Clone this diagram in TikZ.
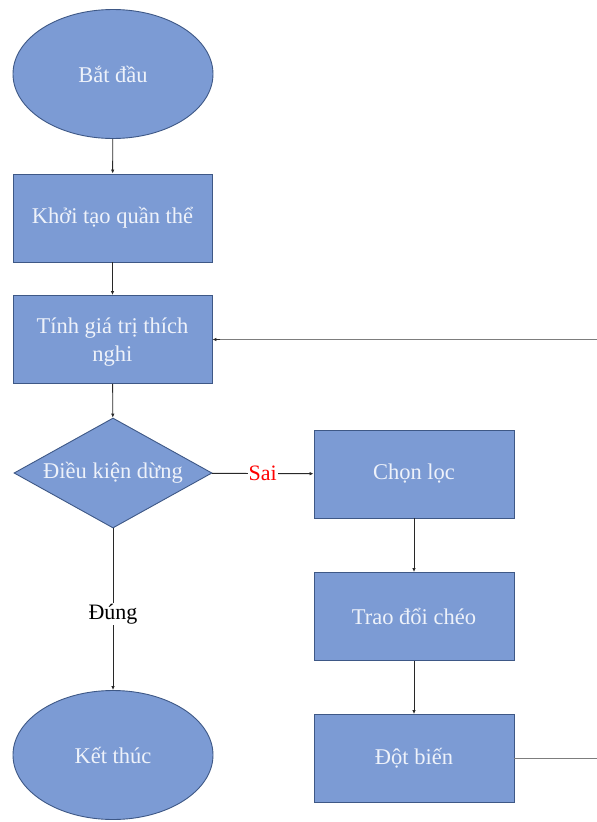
\documentclass[tikz,border=0pt]{standalone}
\usepackage{fontspec}
\setmainfont{Liberation Serif}
\usetikzlibrary{shapes.geometric,arrows.meta}
\definecolor{boxfill}{RGB}{124,155,212}
\definecolor{boxline}{RGB}{62,88,134}
\definecolor{txt}{RGB}{238,242,250}
\definecolor{conn}{RGB}{40,40,40}
\definecolor{loopc}{RGB}{125,125,125}
\begin{document}
\begin{tikzpicture}[x=1pt,y=-1pt,
  base/.style={draw=boxline,fill=boxfill,line width=0.9pt,text=txt,
    font=\rmfamily\fontsize{22.5}{28}\selectfont,inner sep=0pt},
  procbox/.style={base,rectangle,minimum width=199pt,minimum height=88pt,align=center},
  termin/.style={base,ellipse,minimum width=200pt,minimum height=129pt},
  decis/.style={base,diamond,aspect=1.8,minimum width=198pt,minimum height=110pt},
  arr/.style={draw=conn,line width=0.9pt,-{Latex[length=4pt,width=3.5pt]}},
  loopline/.style={draw=loopc,line width=1.6pt},
  lbl/.style={fill=white,inner sep=1pt,font=\rmfamily\fontsize{22}{24}\selectfont}
]
\useasboundingbox (0,0) rectangle (597,822);
\fill[white] (0,0) rectangle (597,822);

\node[termin] (start) at (113,74) {Bắt đầu};
\node[procbox] (init) at (112.5,218) {Khởi tạo quần thể};
\node[procbox,text depth=0pt] (fit) at (112.5,339.5) {Tính giá trị thích\\nghi};
\node[decis] (cond) at (113,473) {Điều kiện dừng};
\node[termin] (stop) at (113,755) {Kết thúc};
\node[procbox,minimum width=200pt] (sel) at (414,474) {Chọn lọc};
\node[procbox,minimum width=200pt] (cross) at (414,616.5) {Trao đổi chéo};
\node[procbox,minimum width=200pt] (mut) at (414,758.5) {Đột biến};
\coordinate (rightc) at (599,0);

\draw[arr] (start) -- (init);
\draw[arr] (init) -- (fit);
\draw[arr] (fit) -- (cond);
\draw[arr] (cond) -- node[lbl,text=black,pos=0.53] {Đúng} (stop);
\draw[arr] (cond) -- node[lbl,text=red] {Sai} (sel);
\draw[arr] (sel) -- (cross);
\draw[arr] (cross) -- (mut);
\draw[loopline] (mut.east) -- (mut.east -| rightc) -- (fit.east -| rightc) -- ([xshift=6pt]fit.east);
\draw[arr] ([xshift=8pt]fit.east) -- (fit.east);
\end{tikzpicture}
\end{document}
